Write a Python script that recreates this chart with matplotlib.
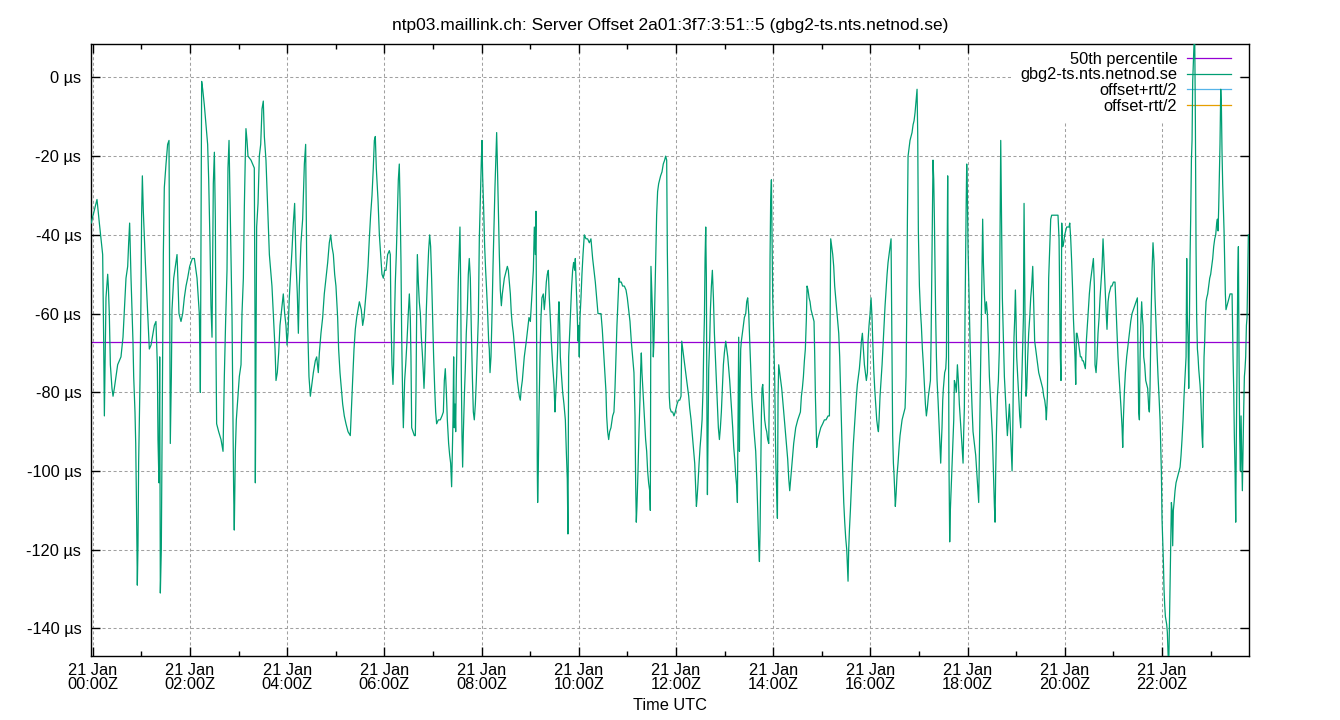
import numpy as np
import matplotlib
matplotlib.use("Agg")
import matplotlib.pyplot as plt
from matplotlib.ticker import FixedLocator

plt.rcParams['font.family'] = ['Liberation Sans', 'DejaVu Sans']
plt.rcParams['font.size'] = 11.8

# minutes after 21 Jan 00:00Z, offsets in microseconds (block by block)
t_a = [-2, 5.2, 8.1, 12.2, 13.4, 14.3, 15.5, 16.3, 18.4, 19.2,
       20.4, 21.7, 23.7, 25.0, 26.6, 30.7, 34.8, 37.3, 39.0, 41.0,
       43.1, 44.3, 45.5, 47.2, 48.4, 49.6, 50.5, 52.1, 53.0, 54.2,
       55.0, 55.8, 56.6, 58.3, 59.5, 60.3, 61.2, 62.4, 64.9, 67.8,
       69.8, 71.9, 76.0, 78.0, 79.7, 80.5, 81.7, 82.6, 83.4, 84.6,
       85.4, 87.1, 88.3, 90.4, 92.4, 94.1, 94.9, 95.7, 97.0, 97.8,
       99.9, 101.9, 104.0, 105.2, 106.4, 108.9, 111.0, 113.0, 115.1, 117.1,
       119.6, 122.9, 125.4, 128.7, 130.3, 131.5, 132.4, 132.8, 133.6, 134.4,
       135.7, 137.7, 139.8, 141.8, 143.1, 144.7, 145.9, 147.2, 148.8, 150.1,
       151.3, 152.1, 152.9, 155.4, 158.3, 160.8, 162.4, 164.0, 165.7, 166.9,
       168.2, 169.8, 171.9, 173.1, 173.9, 174.7, 176.0, 177.2, 178.9, 180.9,
       183.0]
v_a = [-37, -31, -37, -45, -66, -86, -68, -56, -50, -53,
       -60, -73, -79, -81, -79, -73, -71, -66, -59, -51,
       -48, -42, -37, -51, -59, -67, -76, -85, -93, -113,
       -129, -119, -98, -77, -56, -35, -25, -34, -47, -60,
       -69, -68, -63, -62, -73, -92, -103, -71, -131, -120,
       -96, -45, -28, -22, -17, -16, -54, -93, -76, -59,
       -51, -48, -45, -52, -60, -62, -60, -56, -53, -51,
       -48, -46, -46, -51, -56, -60, -71, -80, -41, -1,
       -3, -7, -12, -17, -26, -42, -58, -66, -27, -19,
       -36, -70, -88, -90, -92, -95, -76, -62, -49, -23,
       -16, -35, -61, -86, -105, -115, -95, -87, -82, -76,
       -73]

t_b = [184.2, 185.9, 187.1, 188.3, 189.1, 190.4, 191.6, 195.3, 199.4, 200.3,
       200.7, 201.5, 202.3, 204.0, 205.6, 207.3, 208.9, 210.5, 211.8, 213.8,
       215.9, 218.0, 219.6, 221.2, 222.9, 225.0, 226.2, 227.8, 229.5, 231.1,
       233.2, 235.2, 236.9, 238.5, 239.8, 241.0, 242.6, 244.3, 245.9, 247.6,
       249.2, 250.9, 252.5, 253.8, 255.0, 257.0, 259.1, 261.2, 262.8, 264.0,
       265.3, 266.9, 268.6, 269.8, 272.3, 274.7, 276.4, 278.4, 279.7, 281.7,
       283.8, 285.8, 287.9, 290.0, 292.0, 293.7, 295.3, 297.0, 298.6, 300.2,
       302.3, 303.5, 305.2, 306.8, 308.5, 310.5, 312.6, 315.1, 317.9, 319.2,
       320.8, 322.5, 324.1, 325.8, 327.4, 329.1, 331.5, 333.2, 334.8, 336.5,
       338.1, 339.8, 341.4, 343.0, 344.7, 346.3, 347.6, 348.8, 350.0, 352.1,
       353.8, 355.4, 357.0, 358.7, 360.3, 362.0]
v_b = [-60, -51, -33, -20, -13, -16, -20, -21, -23, -63,
       -103, -71, -38, -32, -20, -17, -8, -6, -15, -21,
       -33, -45, -49, -53, -60, -69, -77, -75, -70, -63,
       -59, -55, -60, -63, -68, -65, -56, -50, -44, -37,
       -32, -47, -55, -65, -53, -42, -36, -22, -17, -45,
       -63, -76, -81, -79, -75, -72, -71, -75, -70, -65,
       -61, -55, -51, -47, -42, -40, -43, -45, -50, -53,
       -61, -69, -75, -79, -83, -86, -88, -90, -91, -85,
       -77, -69, -64, -61, -59, -57, -59, -63, -61, -57,
       -53, -48, -41, -35, -30, -23, -16, -15, -23, -31,
       -40, -45, -50, -51, -49, -49]

t_c = [364.0, 366.1, 367.3, 368.1, 369.4, 370.6, 371.4, 372.3, 373.5, 374.7,
       376.0, 377.2, 378.4, 379.3, 380.5, 381.3, 382.5, 383.4, 384.2, 385.0,
       386.3, 387.9, 389.5, 390.8, 392.0, 392.8, 393.7, 395.3, 397.0, 398.2,
       399.0, 399.8, 400.7, 401.9, 403.1, 404.4, 405.6, 406.8, 408.1, 408.9,
       409.7, 410.5, 411.8, 413.0, 414.6, 415.9, 417.1, 418.3, 419.6, 420.8,
       422.1, 423.3, 424.5, 426.6, 429.0, 431.1, 432.8, 434.0, 435.2, 436.5,
       437.7, 439.3, 440.6, 441.8, 443.0, 443.9, 444.7, 445.5, 446.3, 447.2,
       448.0, 448.8, 450.0, 451.3, 452.5, 453.3, 454.1, 455.0, 455.8, 456.6,
       457.4, 458.7, 459.9, 461.1, 462.4, 463.6, 464.8, 466.1, 467.3, 468.6,
       469.8, 471.0, 472.3, 473.5, 474.7, 476.0, 477.2, 478.4, 479.7, 480.5,
       481.3, 482.5, 483.8, 485.0, 486.2, 487.5, 488.7, 489.5, 490.4, 491.6,
       492.8, 494.1, 495.3, 496.5, 497.8, 498.6, 499.4, 500.6, 501.9, 503.1,
       504.4, 505.6, 506.8, 508.1, 509.3, 510.5, 511.8, 513.0, 514.2, 515.5,
       516.7, 518.0, 519.2, 520.4, 521.6, 522.9, 524.1, 525.3, 526.6, 527.8,
       529.0, 530.3, 531.5, 532.7, 534.0, 535.2, 536.9, 538.5, 540.2]
v_c = [-45, -44, -45, -61, -73, -78, -73, -63, -52, -45,
       -35, -26, -22, -31, -47, -65, -81, -89, -83, -77,
       -73, -67, -60, -55, -61, -71, -89, -90, -91, -91,
       -80, -61, -45, -52, -57, -60, -66, -70, -75, -79,
       -75, -69, -59, -52, -44, -40, -43, -51, -61, -71,
       -79, -85, -88, -87, -87, -86, -85, -77, -74, -80,
       -87, -93, -96, -98, -104, -95, -87, -71, -89, -83,
       -90, -76, -63, -51, -43, -38, -51, -76, -91, -99,
       -91, -81, -74, -65, -59, -50, -46, -51, -64, -76,
       -85, -87, -83, -77, -69, -61, -41, -31, -21, -16,
       -25, -33, -43, -49, -54, -60, -67, -69, -75, -71,
       -61, -48, -38, -28, -19, -14, -21, -33, -45, -54,
       -58, -55, -53, -51, -50, -49, -48, -49, -52, -55,
       -60, -63, -65, -68, -71, -74, -77, -79, -81, -82,
       -79, -77, -74, -71, -69, -67, -64, -61, -62]

t_d = [542.2, 543.9, 545.1, 546.3, 547.1, 548.0, 548.8, 549.2, 550.0, 550.8,
       552.1, 553.3, 554.5, 556.2, 557.4, 558.7, 559.9, 561.1, 562.4, 563.6,
       564.8, 566.1, 567.7, 569.4, 570.6, 571.4, 572.7, 573.9, 574.7, 575.5,
       576.4, 577.2, 578.4, 580.1, 581.7, 583.4, 584.6, 585.8, 586.6, 587.5,
       588.7, 589.9, 591.2, 592.4, 593.6, 594.9, 595.7, 596.9, 598.2, 599.0,
       599.8, 600.6, 601.5, 602.7, 603.9, 605.2, 606.8, 608.9, 610.9, 613.0,
       615.0, 617.1, 618.7, 620.4, 622.0, 623.7, 625.3, 627.4, 629.0, 630.7,
       632.3, 633.6, 634.4, 635.6, 636.9, 638.1, 639.7, 641.8, 643.4, 644.7,
       645.9, 647.1, 648.4, 649.6, 650.8, 652.5, 654.1, 656.2, 658.3, 659.9,
       661.5, 663.2, 664.8, 666.5, 668.1, 669.4, 670.2, 671.0, 671.8, 673.1,
       674.3, 675.5, 676.4, 677.2, 678.0, 679.6, 681.3, 682.5, 683.8, 685.0,
       686.2, 687.5, 688.3, 689.1, 689.9, 691.2, 692.0, 692.8, 693.6, 694.9,
       696.1, 697.3, 698.6, 699.8, 701.0, 702.7, 704.3, 706.0, 707.2, 708.5,
       709.3, 710.1, 710.9, 711.7, 712.6, 714.2, 715.9, 717.5, 719.1]
v_d = [-55, -49, -38, -45, -34, -71, -100, -108, -100, -86,
       -71, -61, -56, -55, -59, -56, -52, -50, -49, -56,
       -61, -67, -73, -78, -85, -81, -76, -69, -61, -57,
       -63, -71, -75, -80, -83, -87, -95, -102, -116, -71,
       -65, -59, -53, -49, -47, -49, -46, -53, -61, -67,
       -63, -71, -61, -56, -50, -45, -40, -41, -41, -42,
       -41, -46, -49, -52, -56, -60, -60, -60, -64, -70,
       -76, -80, -86, -90, -92, -90, -89, -86, -85, -79,
       -71, -63, -57, -51, -52, -52, -53, -53, -54, -56,
       -59, -62, -67, -71, -75, -86, -103, -113, -109, -100,
       -90, -82, -74, -70, -75, -81, -87, -92, -95, -100,
       -103, -105, -110, -48, -53, -61, -71, -67, -59, -47,
       -35, -29, -27, -26, -25, -24, -22, -21, -20, -21,
       -44, -56, -67, -81, -84, -85, -85, -86, -85]

t_e = [721.3, 723.0, 724.6, 726.2, 727.1, 728.3, 729.5, 730.8, 732.0, 733.2,
       734.5, 735.7, 736.9, 738.6, 740.2, 741.9, 743.1, 744.4, 745.2, 746.0,
       747.2, 748.5, 749.7, 750.9, 752.2, 753.4, 754.2, 755.1, 755.9, 756.7,
       757.5, 758.3, 758.8, 759.6, 760.4, 761.6, 762.5, 763.7, 764.9, 766.2,
       767.4, 768.6, 769.9, 771.1, 772.3, 773.6, 774.8, 776.0, 777.3, 778.5,
       779.7, 781.4, 782.6, 783.9, 785.1, 786.3, 787.6, 788.8, 790.0, 791.3,
       792.5, 793.7, 795.0, 795.8, 796.6, 797.4, 798.3, 799.1, 799.9, 800.7,
       802.0, 803.2, 804.4, 806.1, 807.3, 808.5, 809.8, 811.0, 812.2, 813.5,
       814.7, 816.0, 817.2, 818.4, 819.7, 820.9, 822.1, 823.0, 823.8, 824.6,
       825.4, 826.2, 827.1, 828.3, 829.5, 830.8, 832.0, 833.2, 834.5, 835.3,
       836.1, 836.9, 837.8, 838.6, 839.4, 840.2, 841.1, 841.9, 842.7, 843.5,
       844.3, 845.2, 846.0, 846.8, 848.0, 849.3, 850.5, 851.8, 853.0, 854.2,
       855.5, 856.7, 857.9, 859.2, 860.4, 861.6, 862.9, 864.1, 865.3, 866.6,
       867.8, 869.0, 870.3, 871.9, 873.6, 874.8, 876.0, 877.3, 878.5, 879.7,
       881.0, 881.8, 883.0, 884.3, 885.5, 886.7, 888.0, 889.2, 890.4, 891.3,
       892.1, 892.9, 893.7, 894.9, 896.2, 897.4, 898.7]
v_e = [-83, -82, -82, -81, -67, -69, -71, -73, -75, -77,
       -79, -81, -84, -87, -91, -95, -98, -105, -109, -107,
       -103, -98, -94, -91, -87, -79, -69, -61, -46, -38,
       -51, -91, -106, -91, -74, -67, -59, -53, -49, -56,
       -65, -71, -77, -83, -89, -92, -89, -85, -79, -73,
       -70, -67, -69, -71, -74, -77, -81, -85, -89, -94,
       -97, -101, -104, -108, -87, -66, -95, -79, -69, -67,
       -65, -63, -61, -60, -57, -56, -60, -67, -74, -81,
       -85, -89, -92, -95, -102, -110, -119, -123, -115, -100,
       -86, -79, -78, -83, -87, -89, -90, -92, -93, -78,
       -46, -31, -26, -41, -56, -63, -71, -77, -91, -100,
       -105, -112, -81, -73, -75, -77, -79, -82, -85, -88,
       -91, -94, -97, -102, -105, -102, -99, -96, -93, -91,
       -89, -88, -87, -86, -85, -81, -79, -76, -72, -69,
       -61, -53, -54, -56, -57, -59, -60, -61, -62, -71,
       -81, -87, -94, -92, -91, -90, -89]

t_f = [901.1, 903.2, 905.2, 907.7, 909.4, 910.2, 911.0, 912.2, 913.5, 914.7,
       915.9, 917.2, 918.4, 919.6, 920.9, 922.1, 923.4, 924.6, 925.8, 927.1,
       928.3, 929.5, 930.8, 931.6, 932.4, 933.2, 934.1, 935.3, 936.5, 937.8,
       939.0, 940.2, 941.5, 942.7, 943.9, 945.2, 946.4, 947.6, 948.9, 950.1,
       951.3, 952.6, 953.8, 955.0, 956.3, 957.1, 958.3, 959.6, 960.8, 962.0,
       962.9, 964.1, 965.3, 966.6, 967.8, 969.0, 969.9, 970.7, 971.9, 973.1,
       974.4, 975.6, 976.8, 978.1, 979.3, 980.6, 981.8, 983.0, 984.3, 985.5,
       986.7, 987.5, 988.4, 989.2, 990.0, 990.8, 991.7, 992.9, 994.1, 995.4,
       996.6, 997.8, 999.1, 1000.3, 1001.5, 1002.8, 1004.0, 1004.8, 1005.7, 1006.5,
       1007.7, 1008.9, 1010.2, 1011.4, 1012.7, 1013.9, 1015.1, 1016.4, 1017.6, 1018.4,
       1019.2, 1020.5, 1021.7, 1022.9, 1024.2, 1025.4, 1026.6, 1027.9, 1029.1, 1030.3,
       1031.6, 1032.8, 1034.1, 1034.9, 1035.7, 1036.5, 1037.3, 1038.2, 1039.0, 1039.8,
       1040.6, 1041.5, 1042.3, 1043.5, 1044.7, 1046.0, 1046.8, 1047.6, 1048.4, 1049.3,
       1050.1, 1050.9, 1051.7, 1053.0, 1053.8, 1054.6, 1055.4, 1056.3, 1057.1, 1057.9,
       1058.7, 1059.6, 1060.4, 1061.6, 1062.9, 1063.7, 1064.9, 1066.1, 1067.4, 1068.6,
       1069.8, 1071.1, 1072.3, 1073.5, 1074.4, 1075.2, 1076.0, 1076.8]
v_f = [-88, -87, -87, -86, -86, -64, -41, -43, -45, -48,
       -53, -56, -59, -62, -65, -71, -81, -91, -100, -108,
       -113, -117, -120, -124, -128, -120, -115, -110, -104, -98,
       -93, -89, -85, -81, -78, -76, -74, -71, -67, -65,
       -69, -73, -75, -77, -75, -67, -63, -60, -56, -61,
       -67, -74, -79, -83, -87, -89, -90, -87, -81, -77,
       -73, -68, -63, -58, -54, -50, -47, -45, -43, -41,
       -71, -91, -98, -101, -105, -109, -106, -101, -98, -94,
       -91, -89, -87, -86, -85, -84, -76, -61, -36, -20,
       -18, -16, -15, -14, -12, -11, -9, -6, -3, -14,
       -39, -53, -59, -63, -69, -73, -78, -83, -86, -84,
       -81, -79, -77, -67, -51, -36, -21, -26, -36, -49,
       -61, -71, -77, -82, -88, -94, -98, -93, -89, -82,
       -79, -77, -75, -74, -71, -51, -25, -61, -100, -118,
       -110, -105, -100, -94, -87, -77, -78, -80, -73, -77,
       -83, -87, -91, -95, -98, -90, -84, -61]

t_g = [1078.2, 1078.9, 1079.7, 1080.5, 1081.8, 1083.0, 1084.2, 1085.5, 1086.7, 1088.4,
       1090.0, 1091.2, 1092.5, 1093.7, 1094.5, 1095.8, 1097.0, 1097.8, 1098.6, 1099.5,
       1100.7, 1101.9, 1103.2, 1104.4, 1105.6, 1106.9, 1108.1, 1109.3, 1110.6, 1111.8,
       1113.1, 1113.9, 1114.7, 1115.5, 1116.8, 1118.0, 1119.2, 1120.0, 1120.9, 1121.7,
       1122.9, 1124.2, 1125.4, 1126.6, 1127.9, 1129.1, 1130.3, 1131.6, 1132.8, 1134.0,
       1134.9, 1135.7, 1136.5, 1137.3, 1138.2, 1139.0, 1139.8, 1140.6, 1141.9, 1143.1,
       1144.3, 1145.6, 1146.4, 1147.6, 1148.9, 1149.7, 1150.5, 1151.3, 1152.1, 1153.0,
       1154.2, 1155.4, 1156.7, 1157.9, 1159.1, 1160.4, 1161.6, 1162.8, 1164.1, 1165.3,
       1166.5, 1167.8, 1169.0, 1170.2, 1171.5, 1172.7, 1174.0, 1175.2, 1176.4, 1177.2,
       1178.5, 1179.3, 1180.1, 1181.4, 1182.6, 1183.8, 1185.9, 1187.9, 1190.0, 1191.6,
       1192.9, 1193.7, 1194.5, 1195.3, 1196.2, 1197.4, 1198.6, 1199.9, 1201.1, 1202.3,
       1203.6, 1205.2, 1206.1, 1207.3, 1208.5, 1209.8, 1210.6, 1211.8, 1212.6, 1213.5,
       1214.3, 1215.1, 1215.9, 1216.7, 1218.0, 1219.2, 1220.5, 1221.7, 1222.9, 1224.2,
       1225.4, 1226.6, 1227.9, 1229.1, 1230.3, 1231.6, 1232.8, 1234.0, 1235.3, 1236.5,
       1237.3, 1238.6, 1239.8, 1241.0, 1242.3, 1243.5, 1244.7, 1246.0, 1247.2, 1248.4,
       1249.7, 1250.9, 1252.1, 1253.4, 1254.6, 1255.8, 1257.1]
v_g = [-33, -22, -29, -43, -56, -67, -76, -84, -90, -93,
       -96, -100, -104, -108, -96, -77, -61, -48, -36, -47,
       -55, -60, -57, -60, -67, -76, -81, -86, -91, -100,
       -109, -113, -100, -91, -81, -77, -69, -41, -16, -31,
       -56, -67, -76, -81, -86, -91, -87, -83, -89, -95,
       -100, -91, -76, -66, -61, -54, -61, -71, -76, -81,
       -86, -89, -81, -71, -61, -32, -51, -71, -81, -79,
       -71, -65, -61, -56, -53, -48, -57, -67, -69, -71,
       -73, -75, -76, -77, -78, -79, -81, -82, -84, -87,
       -81, -66, -51, -43, -36, -35, -35, -35, -35, -35,
       -41, -56, -71, -77, -37, -43, -42, -40, -39, -38,
       -38, -38, -37, -41, -47, -55, -61, -67, -71, -78,
       -65, -65, -66, -67, -69, -71, -71, -72, -72, -73,
       -74, -67, -63, -59, -55, -52, -50, -48, -46, -53,
       -73, -75, -71, -65, -61, -56, -52, -48, -41, -47,
       -53, -59, -64, -57, -55, -54, -53]

t_h = [1258.3, 1260.0, 1262.0, 1263.3, 1264.5, 1265.7, 1267.0, 1268.2, 1269.4, 1270.7,
       1271.5, 1272.3, 1273.5, 1274.8, 1276.4, 1278.1, 1279.7, 1281.4, 1283.0, 1284.7,
       1286.3, 1287.9, 1289.6, 1291.2, 1292.1, 1292.9, 1294.1, 1294.9, 1295.8, 1296.6,
       1297.4, 1298.6, 1299.9, 1301.1, 1302.3, 1303.6, 1304.4, 1305.2, 1306.5, 1307.7,
       1308.9, 1310.2, 1311.4, 1312.6, 1313.9, 1315.1, 1316.3, 1317.6, 1318.4, 1319.2,
       1320.0, 1320.9, 1321.7, 1322.5, 1323.3, 1324.2, 1325.0, 1325.8, 1326.6, 1327.4,
       1328.3, 1329.1, 1329.9, 1330.7, 1331.6, 1332.4, 1333.2, 1334.0, 1334.9, 1336.1,
       1337.3, 1338.6, 1339.8, 1341.0, 1342.3, 1343.5, 1344.7, 1346.0, 1347.2, 1348.4,
       1349.7, 1350.5, 1351.3, 1352.1, 1353.0, 1353.8, 1354.6, 1355.4, 1356.3, 1357.1,
       1357.9, 1358.7, 1359.6, 1360.4, 1361.2, 1362.0, 1362.8, 1363.7, 1364.5, 1365.3,
       1366.1, 1366.9, 1367.8, 1368.6, 1369.4, 1370.2, 1371.1, 1371.9, 1372.7, 1373.5,
       1374.4, 1375.2, 1376.4, 1377.7, 1378.9, 1380.1, 1381.4, 1382.6, 1383.8, 1385.1,
       1386.3, 1387.5, 1388.4, 1389.2, 1390.0, 1390.8, 1391.6, 1392.5, 1393.3, 1394.1,
       1394.9, 1395.8, 1396.6, 1397.4, 1398.2, 1399.0, 1400.3, 1401.5, 1402.8, 1404.0,
       1405.2, 1406.5, 1407.7, 1408.5, 1409.3, 1410.2, 1411.0, 1411.8, 1412.6, 1413.5,
       1414.3, 1415.1, 1415.9, 1416.8, 1417.6, 1418.4, 1419.2, 1420.0, 1420.9, 1421.7,
       1422.5, 1423.3, 1424.2, 1425.0, 1425.8, 1426.6]
v_h = [-53, -52, -52, -59, -65, -71, -76, -80, -84, -89,
       -94, -87, -80, -75, -71, -68, -65, -62, -60, -59,
       -58, -57, -56, -85, -87, -71, -61, -57, -61, -63,
       -71, -73, -77, -78, -79, -84, -85, -79, -61, -49,
       -42, -47, -56, -63, -70, -76, -81, -87, -93, -100,
       -112, -118, -123, -130, -134, -137, -138, -139, -141, -146,
       -150, -140, -130, -120, -108, -110, -119, -110, -108, -105,
       -103, -102, -101, -100, -99, -96, -92, -87, -81, -76,
       -71, -46, -61, -66, -79, -61, -46, -36, -21, -16,
       -1, 4, 9, 10, -11, -43, -61, -69, -71, -74,
       -76, -78, -81, -86, -91, -94, -81, -71, -67, -61,
       -57, -56, -55, -53, -51, -50, -48, -46, -43, -41,
       -40, -37, -36, -39, -33, -25, -17, -3, -7, -19,
       -27, -33, -39, -47, -55, -59, -58, -57, -56, -55,
       -55, -55, -71, -79, -91, -100, -113, -91, -74, -51,
       -43, -71, -91, -100, -86, -96, -105, -95, -84, -76,
       -74, -71, -63, -61, -51, -40]

percentile_50 = -67.2
tick_minutes = list(range(0, 1440, 120))
tick_labels = ["21 Jan\n%02d:00Z" % (m // 60) for m in tick_minutes]
y_ticks = list(range(-140, 1, 20))

minutes = np.array(t_a + t_b + t_c + t_d + t_e + t_f + t_g + t_h)
offset = np.array(v_a + v_b + v_c + v_d + v_e + v_f + v_g + v_h)

fig = plt.figure(figsize=(13.4, 7.2), dpi=100)
ax = fig.add_axes([91 / 1340, 64 / 720, 1158 / 1340, 612 / 720])

ax.plot([minutes[0], minutes[-1]], [percentile_50, percentile_50], color='#9400d3',
        lw=0.9, label='50th percentile', zorder=2)
ax.plot(minutes, offset, color='#009e73', lw=0.9, label='gbg2-ts.nts.netnod.se', zorder=3)
ax.plot([], [], color='#56b4e9', lw=0.9, label='offset+rtt/2')
ax.plot([], [], color='#e69f00', lw=0.9, label='offset-rtt/2')

ax.set_xlim(-2.2, 1427.4)
ax.set_ylim(-147.0, 8.5)

ax.set_xticks(tick_minutes)
ax.set_xticklabels(tick_labels, linespacing=0.95)
ax.xaxis.set_minor_locator(FixedLocator(list(range(60, 1440, 120))))
ax.set_yticks(y_ticks)
ax.set_yticklabels(["%d µs" % v for v in y_ticks])

ax.tick_params(which='both', direction='in', top=True, right=True, width=1, color='black')
ax.tick_params(which='major', length=6.5)
ax.tick_params(which='minor', length=3.5)
ax.tick_params(axis='y', pad=7)
ax.tick_params(axis='x', pad=5)
ax.set_axisbelow(True)
ax.grid(True, which='major', color='#a0a0a0', lw=0.75, linestyle=(0, (2.9, 2.4)))
for s in ax.spines.values():
    s.set_linewidth(1)

ax.set_title('ntp03.maillink.ch: Server Offset 2a01:3f7:3:51::5 (gbg2-ts.nts.netnod.se)',
             fontsize=12.5, pad=10)
ax.set_xlabel('Time UTC', labelpad=4)

leg = ax.legend(loc='upper right', bbox_to_anchor=(0.9914, 1.0), markerfirst=False,
                frameon=True, fancybox=False, edgecolor='none', facecolor='white',
                framealpha=1, handlelength=2.7, handletextpad=0.6, labelspacing=0.04,
                borderpad=0.47, borderaxespad=0)
for txt in leg.get_texts():
    txt.set_ha('right')
leg.set_zorder(1.5)

fig.savefig('out.png', dpi=100)
